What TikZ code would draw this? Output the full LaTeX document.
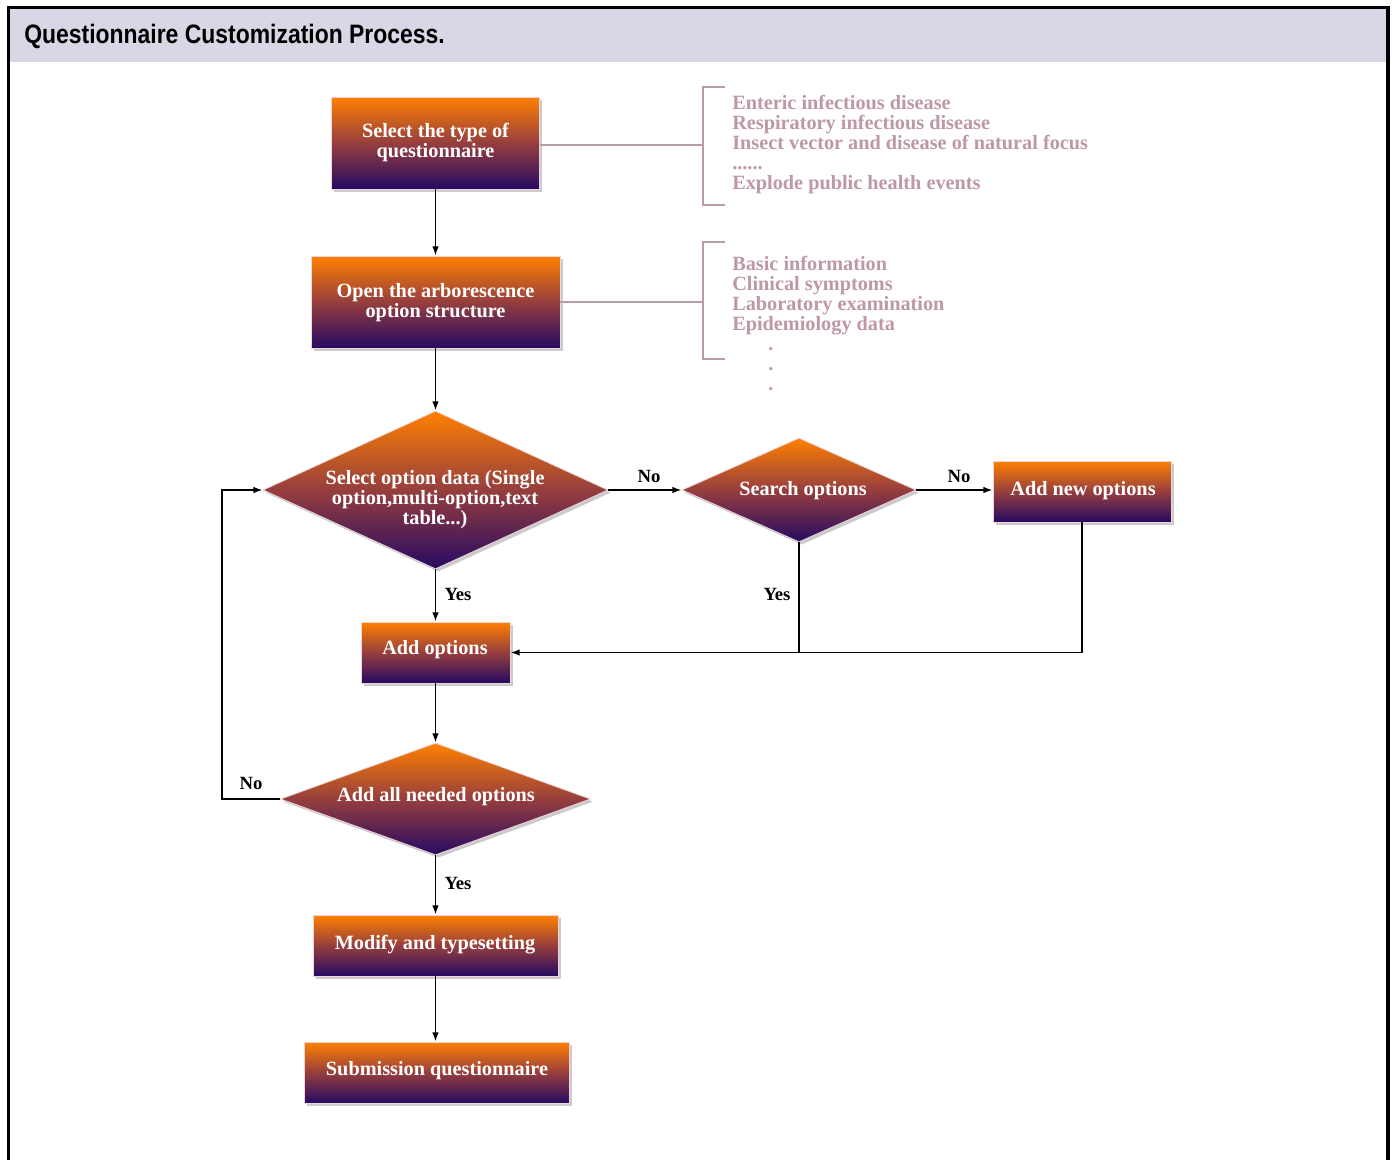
\documentclass[tikz,border=0pt]{standalone}
\usepackage{fontspec}
\setmainfont{Liberation Serif}
\newfontfamily\titlefont[FakeStretch=0.86]{Liberation Sans}
\usetikzlibrary{shapes.geometric,shadows,arrows.meta}
\definecolor{hdr}{RGB}{217,215,229}
\definecolor{ctop}{RGB}{255,128,0}
\definecolor{cmid}{RGB}{150,62,62}
\definecolor{cbot}{RGB}{38,10,98}
\definecolor{notec}{RGB}{190,152,164}
\definecolor{brkc}{RGB}{184,156,166}
\definecolor{edgec}{RGB}{238,212,216}
\begin{document}
\begin{tikzpicture}[x=0.75pt,y=-0.75pt,
  shade/.style={top color=ctop, bottom color=cbot, middle color=cmid,
    draw=edgec, line width=0.6pt,
    drop shadow={shadow xshift=2pt,shadow yshift=-2pt,fill=black!45,opacity=0.45}},
  fbox/.style={shade, rectangle, inner sep=0pt},
  fdia/.style={shade, diamond, inner sep=0pt},
  boxtxt/.style={text=white, font=\bfseries\fontsize{15.2pt}{15pt}\selectfont, align=center, inner sep=0pt},
  lbl/.style={font=\bfseries\fontsize{14pt}{14pt}\selectfont, inner sep=0pt},
  notes/.style={text=notec, font=\bfseries\fontsize{15.2pt}{15pt}\selectfont, align=left, inner sep=0pt, anchor=north west},
  brk/.style={draw=brkc, line width=1.1pt},
  arr/.style={draw=black, line width=1.2pt, -{Latex[length=7pt,width=5pt]}},
  ln/.style={draw=black, line width=1.2pt}]
\useasboundingbox (0,0) rectangle (1394,1160);
\fill[white] (0,0) rectangle (1394,1160);
% header
\fill[hdr] (10,9) rectangle (1386,62);
\draw[line width=2.4pt] (8.5,1160) -- (8.5,7.5) -- (1388,7.5) -- (1388,1160);
\node[anchor=base west, inner sep=0pt, font=\titlefont\bfseries\fontsize{20pt}{20pt}\selectfont] (title) at (24,43) {Questionnaire Customization Process.};
% boxes
\node[fbox, minimum width=156pt, minimum height=69pt] (b1) at (435.5,143) {};
\node[boxtxt] (b1t) at (435.5,143) {Select the type of\\questionnaire};
\node[fbox, minimum width=186.75pt, minimum height=69pt] (b2) at (435.5,302) {};
\node[boxtxt] (b2t) at (435.5,303) {Open the arborescence\\option structure};
\node[fdia, minimum width=258.75pt, minimum height=118.5pt] (d1) at (435.5,490) {};
\node[boxtxt] (d1t) at (435,500) {Select option data (Single\\option,multi-option,text\\table...)};
\node[fdia, minimum width=175.5pt, minimum height=78pt] (d3) at (799,490) {};
\node[boxtxt] (d3t) at (803,491) {Search options};
\node[fbox, minimum width=133.5pt, minimum height=45.75pt] (b4) at (1082,491.5) {};
\node[boxtxt] (b4t) at (1083,491) {Add new options};
\node[fbox, minimum width=111.75pt, minimum height=45.75pt] (b3) at (435.5,652.5) {};
\node[boxtxt] (b3t) at (435,650) {Add options};
\node[fdia, minimum width=232.5pt, minimum height=84pt] (d2) at (435.5,799) {};
\node[boxtxt] (d2t) at (436,797) {Add all needed options};
\node[fbox, minimum width=183.75pt, minimum height=45.75pt] (b5) at (435.5,945.5) {};
\node[boxtxt] (b5t) at (435,945) {Modify and typesetting};
\node[fbox, minimum width=198.75pt, minimum height=45.75pt] (b6) at (436.5,1072.5) {};
\node[boxtxt] (b6t) at (437,1071) {Submission questionnaire};
% notes
\node[notes] (n1) at (732,95) {Enteric infectious disease\\Respiratory infectious disease\\Insect vector and disease of natural focus\\......\\Explode public health events};
\node[notes] (n2) at (732,256) {Basic information\\Clinical symptoms\\Laboratory examination\\Epidemiology data\\\hspace*{27pt}.\\\hspace*{27pt}.\\\hspace*{27pt}.};
% brackets
\coordinate (k1) at (703,145);
\coordinate (k2) at (703,302);
\draw[brk] (725,87) -- (703,87) -- (703,205) -- (725,205);
\draw[brk] (b1.east |- k1) -- (k1);
\draw[brk] (725,242) -- (703,242) -- (703,359) -- (725,359);
\draw[brk] (b2.east) -- (k2);
% connectors
\draw[arr] (b1) -- (b2);
\draw[arr] (b2) -- (d1);
\draw[arr] (d1.east) -- (d3.west);
\draw[arr] (d3.east) -- (d3.east -| b4.west);
\draw[arr] (d1.south) -- (b3.north);
\draw[arr] (d3.south) |- (b3.east);
\coordinate (j) at (d3.south |- b3.east);
\draw[ln] (b4.south) |- (j);
\draw[arr] (b3) -- (d2);
\draw[arr] (d2.west) -- ++(-58,0) |- (d1.west);
\draw[arr] (d2.south) -- (b5.north);
\draw[arr] (b5.south) -- (b5.south |- b6.north);
% labels
\node[lbl] (l1) at (649,476) {No};
\node[lbl] (l2) at (959,476) {No};
\node[lbl] (l3) at (777,594) {Yes};
\node[lbl] (l4) at (458,594) {Yes};
\node[lbl] (l5) at (251,783) {No};
\node[lbl] (l6) at (458,883) {Yes};
\end{tikzpicture}
\end{document}
